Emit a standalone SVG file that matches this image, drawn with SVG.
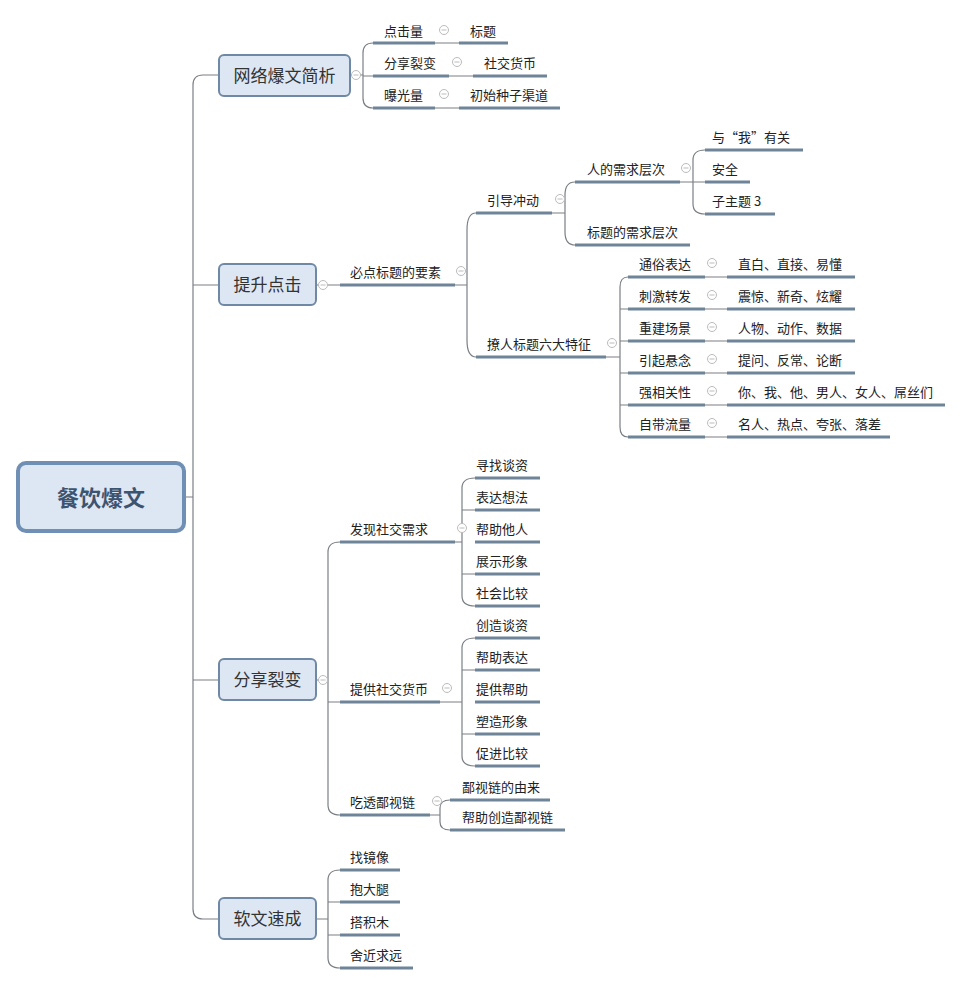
<svg xmlns="http://www.w3.org/2000/svg" width="963" height="984" viewBox="0 0 963 984">
<style>
text{font-family:"Noto Sans CJK SC","Noto Sans",sans-serif;fill:#222;font-size:13px}
.u{stroke:#6e8498;stroke-width:3;fill:none}
.c{stroke:#7a7f85;stroke-width:1.2;fill:none}
.box{fill:#dde7f3;stroke:#6f89a5;stroke-width:2}
.bt{font-size:17px;fill:#333}
.t{fill:#fff;stroke:#bbb;stroke-width:1}
.m{stroke:#bbb;stroke-width:1}
</style>
<defs>
<g id="tg"><circle r="4.5" class="t"/><line x1="-2.5" x2="2.5" class="m"/></g>
</defs>
<rect width="963" height="984" fill="#fff"/>
<g id="connectors">
<path class="c" d="M185,497 H193 M203,75 Q193,75 193,85 V909 Q193,919 203,919 H219 M193,285 H219 M193,680 H219 M203,75 H219"/>
<path class="c" d="M350,75 H363 M373,43 Q363,43 363,53 V98 Q363,108 373,108 M363,76 H373 M435,43 H459 M449,76 H473 M435,108 H459"/>
<path class="c" d="M316,285 H340 M455,285 H467 M476,213 Q467,213 467,230 V340 Q467,357 476,357 M552,213 H565 M575,182 Q565,182 565,195 V232 Q565,245 575,245 M680,182 H693 M705,150 Q693,150 693,160 V204 Q693,214 705,214 M693,182 H705"/>
<path class="c" d="M606,357 H620 M628,277 Q620,277 620,287 V427 Q620,437 628,437 M620,309 H628 M620,341 H628 M620,373 H628 M620,405 H628 M705,277 H727 M705,309 H727 M705,341 H727 M705,373 H727 M705,405 H727 M705,437 H727"/>
<path class="c" d="M316,680 H328 M340,542 Q328,542 328,552 V805 Q328,815 340,815 M328,702 H340 M455,542 H462 M475,478 Q462,478 462,488 V596 Q462,606 475,606 M462,510 H475 M462,574 H475 M440,702 H462 M475,638 Q462,638 462,648 V756 Q462,766 475,766 M462,670 H475 M462,734 H475 M430,815 H440 M450,800 Q440,800 440,808 V822 Q440,830 450,830"/>
<path class="c" d="M316,919 H328 M340,870 Q328,870 328,880 V958 Q328,968 340,968 M328,902 H340 M328,935 H340"/>
</g>
<g id="root"><rect x="18" y="463" width="166" height="68" rx="8" fill="#dde7f3" stroke="#6f8fb5" stroke-width="4"/><text x="101" y="506" text-anchor="middle" style="font-size:22px;font-weight:bold;fill:#3d5470">餐饮爆文</text></g>
<g id="b1"><rect class="box" x="219" y="55" width="131" height="41" rx="5"/><text class="bt" x="284.5" y="82" text-anchor="middle">网络爆文简析</text><use href="#tg" x="356" y="75"/></g>
<g id="b2"><rect class="box" x="219" y="264" width="97" height="41" rx="5"/><text class="bt" x="267.5" y="291" text-anchor="middle">提升点击</text><use href="#tg" x="323" y="285"/></g>
<g id="b3"><rect class="box" x="219" y="659" width="97" height="41" rx="5"/><text class="bt" x="267.5" y="686" text-anchor="middle">分享裂变</text><use href="#tg" x="323" y="680"/></g>
<g id="b4"><rect class="box" x="219" y="898" width="97" height="41" rx="5"/><text class="bt" x="267.5" y="925" text-anchor="middle">软文速成</text></g>
<g id="n1"><path class="u" d="M373,43H435"/><text x="384" y="36">点击量</text><use href="#tg" x="444" y="30"/></g>
<g id="n1a"><path class="u" d="M459,43H508"/><text x="470" y="36">标题</text></g>
<g id="n2"><path class="u" d="M373,76H449"/><text x="384" y="68">分享裂变</text><use href="#tg" x="457" y="62"/></g>
<g id="n2a"><path class="u" d="M473,76H547"/><text x="484" y="68">社交货币</text></g>
<g id="n3"><path class="u" d="M373,108H435"/><text x="384" y="100">曝光量</text><use href="#tg" x="444" y="94"/></g>
<g id="n3a"><path class="u" d="M459,108H560"/><text x="470" y="100">初始种子渠道</text></g>
<g id="p1"><path class="u" d="M340,285H455"/><text x="350" y="277">必点标题的要素</text><use href="#tg" x="461" y="271"/></g>
<g id="p2"><path class="u" d="M476,213H552"/><text x="487" y="205">引导冲动</text><use href="#tg" x="560" y="199"/></g>
<g id="p3"><path class="u" d="M575,182H680"/><text x="587" y="174">人的需求层次</text><use href="#tg" x="686" y="168"/></g>
<g id="p3a"><path class="u" d="M705,150H803"/><text x="712" y="142">与“我”有关</text></g>
<g id="p3b"><path class="u" d="M705,182H750"/><text x="712" y="174">安全</text></g>
<g id="p3c"><path class="u" d="M705,214H775"/><text x="712" y="206">子主题 3</text></g>
<g id="p4"><path class="u" d="M575,245H690"/><text x="587" y="237">标题的需求层次</text></g>
<g id="p5"><path class="u" d="M476,357H606"/><text x="487" y="349">撩人标题六大特征</text><use href="#tg" x="612" y="343"/></g>
<g id="q1"><path class="u" d="M628,277H705"/><text x="639" y="269">通俗表达</text><use href="#tg" x="712" y="263"/><path class="u" d="M727,277H855"/><text x="738" y="269">直白、直接、易懂</text></g>
<g id="q2"><path class="u" d="M628,309H705"/><text x="639" y="301">刺激转发</text><use href="#tg" x="712" y="295"/><path class="u" d="M727,309H855"/><text x="738" y="301">震惊、新奇、炫耀</text></g>
<g id="q3"><path class="u" d="M628,341H705"/><text x="639" y="333">重建场景</text><use href="#tg" x="712" y="327"/><path class="u" d="M727,341H855"/><text x="738" y="333">人物、动作、数据</text></g>
<g id="q4"><path class="u" d="M628,373H705"/><text x="639" y="365">引起悬念</text><use href="#tg" x="712" y="359"/><path class="u" d="M727,373H855"/><text x="738" y="365">提问、反常、论断</text></g>
<g id="q5"><path class="u" d="M628,405H705"/><text x="639" y="397">强相关性</text><use href="#tg" x="712" y="391"/><path class="u" d="M727,405H945"/><text x="738" y="397">你、我、他、男人、女人、屌丝们</text></g>
<g id="q6"><path class="u" d="M628,437H705"/><text x="639" y="429">自带流量</text><use href="#tg" x="712" y="423"/><path class="u" d="M727,437H890"/><text x="738" y="429">名人、热点、夸张、落差</text></g>
<g id="s1"><path class="u" d="M340,542H455"/><text x="350" y="534">发现社交需求</text><use href="#tg" x="462" y="528"/></g>
<g id="s1a"><path class="u" d="M475,478H540"/><text x="476" y="470">寻找谈资</text></g>
<g id="s1b"><path class="u" d="M475,510H540"/><text x="476" y="502">表达想法</text></g>
<g id="s1c"><path class="u" d="M475,542H540"/><text x="476" y="534">帮助他人</text></g>
<g id="s1d"><path class="u" d="M475,574H540"/><text x="476" y="566">展示形象</text></g>
<g id="s1e"><path class="u" d="M475,606H540"/><text x="476" y="598">社会比较</text></g>
<g id="s2"><path class="u" d="M340,702H440"/><text x="350" y="694">提供社交货币</text><use href="#tg" x="447" y="688"/></g>
<g id="s2a"><path class="u" d="M475,638H540"/><text x="476" y="630">创造谈资</text></g>
<g id="s2b"><path class="u" d="M475,670H540"/><text x="476" y="662">帮助表达</text></g>
<g id="s2c"><path class="u" d="M475,702H540"/><text x="476" y="694">提供帮助</text></g>
<g id="s2d"><path class="u" d="M475,734H540"/><text x="476" y="726">塑造形象</text></g>
<g id="s2e"><path class="u" d="M475,766H540"/><text x="476" y="758">促进比较</text></g>
<g id="s3"><path class="u" d="M340,815H430"/><text x="350" y="807">吃透鄙视链</text><use href="#tg" x="437" y="801"/></g>
<g id="s3a"><path class="u" d="M450,800H550"/><text x="462" y="792">鄙视链的由来</text></g>
<g id="s3b"><path class="u" d="M450,830H565"/><text x="462" y="822">帮助创造鄙视链</text></g>
<g id="r1"><path class="u" d="M340,870H400"/><text x="350" y="862">找镜像</text></g>
<g id="r2"><path class="u" d="M340,902H400"/><text x="350" y="894">抱大腿</text></g>
<g id="r3"><path class="u" d="M340,935H400"/><text x="350" y="927">搭积木</text></g>
<g id="r4"><path class="u" d="M340,968H413"/><text x="350" y="960">舍近求远</text></g>
</svg>
